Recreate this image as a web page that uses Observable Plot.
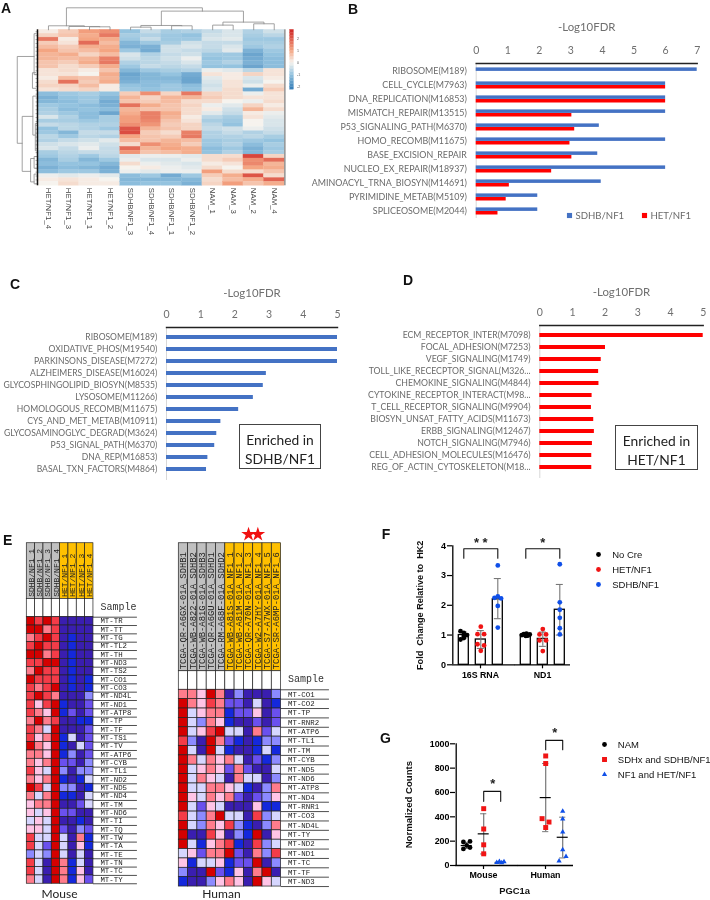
<!DOCTYPE html>
<html><head><meta charset="utf-8">
<script src="https://cdn.jsdelivr.net/npm/d3@7"></script>
<script src="https://cdn.jsdelivr.net/npm/@observablehq/plot@0.6"></script>
<style>
html,body{margin:0;padding:0;background:#fff}
#root{position:relative;width:710px;height:900px;overflow:hidden;background:#fff;filter:blur(.35px)}
#root>svg{position:absolute;background:transparent}
.t{position:absolute;white-space:nowrap;line-height:1}
.let{font:700 14px "Liberation Sans",Arial,sans-serif;color:#111}
.box{position:absolute;box-sizing:border-box;border:1px solid #444;background:#fff;color:#222;font:13.8px/18.6px Lato,sans-serif;text-align:center;padding-top:6px}
</style></head><body><div id="root"></div>
<script>
// ---------- Panel A ----------
const heatColumns = ["HET/NF1_4","HET/NF1_3","HET/NF1_1","HET/NF1_2","SDHB/NF1_3","SDHB/NF1_4","SDHB/NF1_1","SDHB/NF1_2","NAM_1","NAM_3","NAM_2","NAM_4"];
const heatValues = [
[.1,.5,1.1,1.3,-1,-.5,-.8,-.7,-.5,-.3,-.7,-.4],
[.4,.6,.9,1.6,-.8,-.7,-.9,-1,-.4,-.3,-.8,-.6],
[1.6,.1,1,.9,-.9,-.5,-.9,-.9,-.3,-.2,-.9,-.9],
[.5,.2,1.8,.7,-1.2,-.9,-.8,-.4,-.5,-.5,-.8,-.8],
[.7,.5,.9,.9,-1.3,-1.3,-.4,-.3,-.5,-.3,-.9,-.7],
[1,.6,.7,1,-.9,-1.4,-.4,-.5,-.6,-.2,-1.3,-.9],
[.8,.9,.4,.7,-.3,-.7,-.5,-.4,-.9,-.9,-1.5,-1],
[.8,.7,.8,1.5,-.4,-.6,-.4,-.1,-1,-.9,-1.4,-1.1],
[.6,.5,.9,1.6,-.7,-.6,-.5,-.3,-.9,-.7,-1.3,-1.1],
[.6,.3,.5,.9,-.9,-.5,-.6,-.5,-1,-1,-1.5,-1.1],
[.2,.3,.1,.6,-1.2,-.9,-.8,-.7,-.1,-.2,-.6,.2],
[.2,.2,0,.9,-1.5,-1.2,-1,-1.4,.2,.1,.4,.2],
[.1,.7,.6,.8,-1.4,-1.2,-1.2,-1.5,-.2,.1,-.3,.1],
[.3,1.7,.5,.9,-1.3,-1.1,-1.1,-1.5,-.3,.2,-.4,0],
[.4,.4,.7,.1,-1,-1.1,-.9,-1.1,-.4,.2,-.1,.3],
[.2,.3,.4,.1,-.9,-1,-.9,-1,-.3,.3,-1.4,.5],
[-1.1,-.9,-.8,-1,.5,1.3,.4,1.6,.4,.3,-.1,.2],
[-1.3,-1,-.9,-1.2,.8,.4,.8,.8,.5,.3,.2,.2],
[-1.2,-1.1,-.9,-1.4,.6,.5,.7,.3,.3,0,-.1,.3],
[-.9,-1,-1.1,-1.3,1.7,.9,.6,.4,-.1,-.2,.4,.1],
[-.8,-1.1,-1,-1.1,.8,.6,.6,.3,.1,-.4,.8,.3],
[-.7,-.9,-1.1,-1.5,.9,1.5,.9,.3,-.2,-.5,.1,-.1],
[-.3,-.7,-1.1,-.8,1.1,1.5,.8,.1,-.6,-.8,.2,-.2],
[-.8,-.8,-.9,-.8,1.1,1.4,.6,.2,-.8,-.9,0,-.3],
[-.5,-.6,-.7,-.7,1.3,1.2,.5,.4,-.6,-1,0,-.3],
[-1,-.6,-.7,-.9,2.1,.8,.6,.4,-.5,-.4,-.1,-.4],
[-.9,-1.2,-.5,-.5,2.2,.5,.3,1.5,-.7,-.5,-.7,-.5],
[-.6,-.9,-.6,-.7,1,.6,.5,1.6,-.7,-.7,-.6,-.8],
[-.7,-.5,-.4,-.2,.7,.6,.8,.7,-.9,-.8,-.9,-1],
[-.4,-.3,-.2,-.4,.3,1.3,.9,.5,-.9,-.7,-1.1,-.8],
[-.3,-.5,-.1,-.5,1.8,.8,1,.9,-1.1,-.9,-1.3,-.9],
[-.8,-.6,-.5,-.5,1.2,.6,.7,.9,-1,-.7,-1.2,-.8],
[-.9,-.7,-.9,-.6,-.2,-.1,-.1,-.2,.3,.3,2.3,.4],
[-1.2,-.8,-1.2,-.9,-.1,-.3,-.3,-.1,.3,.5,1.3,1.8],
[-1.1,-1,-1,-1.2,.3,-.1,-.2,-.3,.1,.2,1.4,.8],
[-1.3,-1.1,-1.2,-1.4,0,.1,-.1,-.2,.3,0,1,.9],
[-1.1,-.9,-.9,-1.3,-.1,-.2,-.1,-.1,1.1,.3,.3,.6],
[-.1,-.2,-.1,-.2,-1.1,-.9,-1.4,-.9,.5,.9,2.1,.3],
[.1,.2,.1,0,-1.2,-1.2,-1.2,-1.2,.3,.7,.9,1.9],
[0,.3,.1,.1,-1.1,-1,-1,-1.3,.4,1.1,.6,.9]];
const colorBarTicks = [2,1,0,-1,-2];
const colorBarLevels = [-2.25,-2,-1.75,-1.5,-1.25,-1,-.75,-.5,-.25,0,.25,.5,.75,1,1.25,1.5,1.75,2,2.25,2.5];
// dendrogram merges: children a,b, merge height h, child heights ha,hb
const topMerges = [
{a:2.5,b:3.5,h:.77,ha:0,hb:0},{a:1.5,b:3,h:.85,ha:0,hb:.77},{a:.5,b:2.25,h:1.03,ha:0,hb:.85},
{a:4.5,b:5.5,h:.68,ha:0,hb:0},{a:6.5,b:7.5,h:1.03,ha:0,hb:0},{a:5,b:7,h:1.11,ha:.68,hb:1.03},
{a:8.5,b:9.5,h:1.2,ha:0,hb:0},{a:10.5,b:11.5,h:1.54,ha:0,hb:0},{a:9,b:11,h:1.97,ha:1.2,hb:1.54},
{a:6,b:10,h:4.79,ha:1.11,hb:1.97},{a:1.375,b:8,h:5.64,ha:1.03,hb:4.79}];
const leftMerges = [
{a:6.84,b:29.1,h:1.02,ha:.2,hb:.78},{a:22.2,b:36.3,h:.78,ha:.26,hb:.37},
{a:1,b:11.5,h:.2,ha:.1,hb:.12},{a:11,b:15,h:.28,ha:.12,hb:.12},{a:17,b:27,h:.26,ha:.1,hb:.14},
{a:24,b:31,h:.14,ha:.08,hb:.1},{a:33,b:39,h:.37,ha:.2,hb:.2},{a:32.5,b:35.5,h:.2,ha:.1,hb:.1},{a:37,b:39.5,h:.2,ha:.1,hb:.1}];

// ---------- Panels B, C, D ----------
const pathwaysB = ["RIBOSOME(M189)","CELL_CYCLE(M7963)","DNA_REPLICATION(M16853)","MISMATCH_REPAIR(M13515)","P53_SIGNALING_PATH(M6370)","HOMO_RECOMB(M11675)","BASE_EXCISION_REPAIR","NUCLEO_EX_REPAIR(M18937)","AMINOACYL_TRNA_BIOSYN(M14691)","PYRIMIDINE_METAB(M5109)","SPLICEOSOME(M2044)"];
const sdhbB = [7,6,6,6,3.9,6,3.85,6,3.96,1.95,1.95];
const hetB = [0,6,6,3.03,3.12,2.97,3.03,2.39,1.05,.95,.69];
const pathwaysC = ["RIBOSOME(M189)","OXIDATIVE_PHOS(M19540)","PARKINSONS_DISEASE(M7272)","ALZHEIMERS_DISEASE(M16024)","GLYCOSPHINGOLIPID_BIOSYN(M8535)","LYSOSOME(M11266)","HOMOLOGOUS_RECOMB(M11675)","CYS_AND_MET_METAB(M10911)","GLYCOSAMINOGLYC_DEGRAD(M3624)","P53_SIGNAL_PATH(M6370)","DNA_REP(M16853)","BASAL_TXN_FACTORS(M4864)"];
const valuesC = [5,5,5,2.92,2.83,2.54,2.11,1.59,1.47,1.41,1.21,1.17];
const pathwaysD = ["ECM_RECEPTOR_INTER(M7098)","FOCAL_ADHESION(M7253)","VEGF_SIGNALING(M1749)","TOLL_LIKE_RECECPTOR_SIGNAL(M326...","CHEMOKINE_SIGNALING(M4844)","CYTOKINE_RECEPTOR_INTERACT(M98...","T_CELL_RECEPTOR_SIGNALING(M9904)","BIOSYN_UNSAT_FATTY_ACIDS(M11673)","ERBB_SIGNALING(M12467)","NOTCH_SIGNALING(M7946)","CELL_ADHESION_MOLECULES(M16476)","REG_OF_ACTIN_CYTOSKELETON(M18..."];
const valuesD = [5,2.01,1.88,1.8,1.81,1.6,1.58,1.65,1.67,1.61,1.59,1.59];

// ---------- Panel E ----------
const mouseSamples = ["SDHB/NF1_1","SDHB/NF1_2","SDHB/NF1_3","SDHB/NF1_4","HET/NF1_1","HET/NF1_2","HET/NF1_3","HET/NF1_4"];
const mouseGenes = ["MT-TR","MT-TT","MT-TG","MT-TL2","MT-TH","MT-ND3","MT-TS2","MT-CO1","MT-CO3","MT-ND4L","MT-ND1","MT-ATP8","MT-TP","MT-TF","MT-TS1","MT-TV","MT-ATP6","MT-CYB","MT-TL1","MT-ND2","MT-ND5","MT-ND4","MT-TM","MT-ND6","MT-TI","MT-TQ","MT-TW","MT-TA","MT-TE","MT-TN","MT-TC","MT-TY"];
const mouseLevels = [
[4,3,4,3,-5,-5,-5,-5],[4,4,2,3,-5,-5,-5,-5],[2,3,4,3,-5,-4,-5,-5],[3,4,3,3,-5,-4,-5,-5],
[4,4,2,3,-5,-4,-5,-5],[3,3,4,4,-5,-4,-5,-5],[2,4,3,3,-5,-4,-5,-5],[4,3,3,3,-5,-4,-5,-4],
[3,2,3,4,-5,-4,-5,-4],[3,4,3,2,-5,-5,-5,-2],[3,1,3,4,-4,-5,-5,-3],[3,2,1,4,-4,-3,-5,-3],
[2,4,2,3,-5,-5,-4,-4],[3,2,-1,4,-5,-5,-5,-3],[3,1,2,4,-4,-1,-5,-3],[4,2,1,4,-4,-5,-1,-3],
[2,2,1,4,-4,-2,-5,-3],[2,1,2,4,-3,-3,-5,-2],[3,1,-1,4,-2,-5,-2,-2],[2,1,2,4,-4,-5,-4,-1],
[4,3,-1,4,-2,-2,-5,-4],[2,-1,2,4,-4,-4,-5,-1],[1,2,2,4,-5,-5,-3,-1],[1,-1,1,4,-3,-3,-5,-5],
[-1,1,-1,4,-5,-5,-4,-5],[1,1,-1,4,-3,-5,-2,-3],[3,-1,-1,4,-1,-5,2,-4],[3,-1,-3,4,-1,-5,1,-4],
[-2,-1,-2,4,-1,-5,-1,-5],[3,-1,-5,4,2,-4,-1,-5],[3,-1,-5,4,2,-4,1,-5],[2,-1,-5,4,2,-4,1,-3]];
const humanSamples = ["TCGA-QR-A6GX-01A_SDHB1","TCGA-WB-A822-01A_SDHB2","TCGA-WB-A81G-01A_SDHB3","TCGA-QR-A6GU-01A_SDHD1","TCGA-RM-A68F-01A_SDHD2","TCGA-WB-A81S-01A_NF1_1","TCGA-WB-A81M-01A_NF1_2","TCGA-QR-A70N-01A_NF1_3","TCGA-W2-A7HY-01A_NF1_4","TCGA-S7-A7WX-01A_NF1_5","TCGA-SR-A6MP-01A_NF1_6"];
const humanGenes = ["MT-CO1","MT-CO2","MT-TP","MT-RNR2","MT-ATP6","MT-TL1","MT-TM","MT-CYB","MT-ND5","MT-ND6","MT-ATP8","MT-ND4","MT-RNR1","MT-CO3","MT-ND4L","MT-TY","MT-ND2","MT-ND1","MT-TC","MT-TF","MT-ND3"];
const humanLevels = [
[2,2,1,4,2,-5,-2,-5,-5,-5,-2],[4,2,1,3,2,-3,-3,-5,-1,-5,-4],[4,-1,1,2,2,-4,-3,-3,1,-5,-3],
[4,-1,-2,2,1,-4,-5,-5,-3,-5,-3],[4,-1,1,3,4,-1,-1,-5,2,-3,-1],[3,-2,-5,4,2,-3,-4,-5,-4,-2,-2],
[4,-1,-5,4,-1,-4,-5,-5,-4,-1,-4],[4,2,-1,2,1,2,-1,-5,-3,-4,-2],[4,-1,1,2,1,-3,2,-3,-5,-5,-1],
[4,-1,2,1,-1,-5,2,-1,-1,-5,-2],[4,-1,-1,2,2,1,-1,-4,-5,-2,2],[4,1,-1,2,1,2,-3,-5,-3,-2,1],
[4,-1,-3,1,-1,-5,-5,-5,1,-4,-4],[3,-1,-2,2,4,-1,-1,-5,3,-2,-1],[4,-1,-2,2,1,3,-2,-4,-5,-2,2],
[4,-5,-5,3,1,-5,-2,-4,4,-5,1],[4,-1,-4,1,2,3,-4,-5,3,-2,-1],[-1,1,-3,2,2,4,-3,-5,2,-2,3],
[1,-4,-1,-1,1,-4,-3,-3,4,-5,-2],[-2,-5,-5,4,-3,-4,1,-5,2,4,-5],[-4,-5,-5,-2,1,2,1,-5,4,1,-1]];
const levelDomain = [4,3,2,1,-1,-2,-3,-4,-5];
const levelColors = ["#d40000","#f43c48","#ff7c8c","#ffc4e6","#d6d6ff","#8c8aff","#6a50ee","#1428dc","#3a1eb0"];
const starredSamples = [7,8];

// ---------- Panel F ----------
const fGroups = ["16S RNA","ND1"];
const fSeries = ["No Cre","HET/NF1","SDHB/NF1"];
const fBars16S = [1,.85,2.2];
const fBarsND1 = [1,.87,1.85];
const fErrLow16S = [.9,.55,1.55], fErrHigh16S = [1.1,1.15,2.9];
const fErrLowND1 = [.95,.62,1], fErrHighND1 = [1.05,1.1,2.7];
const f16SNoCre = [1.13,1.07,1,.97,.9,.85], f16SNoCreSlot = [-1,0,1,0,0,-1];
const f16SHet = [1.28,1.03,1.03,.69,.65,.47], f16SHetSlot = [0,-1,1,-1,1,0];
const f16SSdhb = [3.34,2.25,2.3,2.23,1.98,1.25], f16SSdhbSlot = [0,-1,0,1,0,0];
const fND1NoCre = [1,1.03,.97,1.05,.98,1.02], fND1NoCreSlot = [-1.2,-.6,0,.2,.6,1.2];
const fND1Het = [1.2,1.02,1.02,.82,.82,.46], fND1HetSlot = [0,-1,1,-1,1,0];
const fND1Sdhb = [3.38,2.1,1.85,1.58,1.23,1.02], fND1SdhbSlot = [0,0,0,0,0,0];
const fColors = ["#000000","#f01414","#0f4fe8"];

// ---------- Panel G ----------
const gGroups = ["Mouse","Human"];
const gSeries = ["NAM","SDHx and SDHB/NF1","NF1 and HET/NF1"];
const gMouseNam = [193,198,136,147,165], gMouseNamSlot = [-1,1,-1,1,0];
const gMouseSdhx = [467,300,170,96], gMouseSdhxSlot = [0,0,0,0];
const gMouseNf1 = [25,32,22,30], gMouseNf1Slot = [-1.2,-.4,.3,1];
const gHumanSdhx = [900,838,385,357,312], gHumanSdhxSlot = [0,0,-1.1,1,0];
const gHumanNf1 = [445,382,275,130,37,74], gHumanNf1Slot = [0,0,0,0,-1.1,1];
const gSummary = [ // group, series, mean, low, high
["Mouse","NAM",164,140,190],["Mouse","SDHx and SDHB/NF1",260,95,425],["Mouse","NF1 and HET/NF1",25,18,32],
["Human","SDHx and SDHB/NF1",558,278,838],["Human","NF1 and HET/NF1",232,62,397]];
const gColors = ["#000000","#f01414","#0f4fe8"];
const gSymbols = ["circle","square","triangle"];

// ---------- helpers ----------
const root = document.getElementById("root");
function place(svg,left,top){svg.style.left=left+"px";svg.style.top=top+"px";svg.style.background="transparent";root.appendChild(svg);return svg;}
function label(text,left,top,css){const d=document.createElement("div");d.className="t";d.textContent=text;d.style.left=left+"px";d.style.top=top+"px";d.style.cssText+=";"+(css||"");root.appendChild(d);return d;}
function box(lines,left,top,w,h){const d=document.createElement("div");d.className="box";d.innerHTML=lines.join("<br>");d.style.left=left+"px";d.style.top=top+"px";d.style.width=w+"px";d.style.height=h+"px";root.appendChild(d);}
const sans='"Liberation Sans",Arial,sans-serif', excel='Lato,"Noto Sans",sans-serif', mono='"Liberation Mono",monospace';

function legend(series,colors,symbols,x,y,step,textDx,fontSize,radii){
 const pad=8;
 place(Plot.plot({width:710-(x-6),height:step*(series.length-1)+2*pad,marginLeft:6,marginRight:0,marginTop:pad,marginBottom:pad,
  style:{background:"transparent",fontFamily:sans},
  x:{domain:[0,1],axis:null},y:{type:"point",domain:series,padding:0,axis:null},
  color:{domain:series,range:colors},symbol:{domain:series,range:symbols},
  marks:[
   ...series.map((s,i)=>Plot.dot([s],{x:0,y:d=>d,fill:d=>d,symbol:d=>d,r:radii[i]})),
   Plot.text(series,{x:0,y:d=>d,dx:textDx,text:d=>d,textAnchor:"start",fontSize,fill:"#111"})
  ]}),x-6,y-pad);
}

// ---------- A ----------
(function(){
 const rows=heatValues.length, cols=heatColumns.length;
 const cells=heatValues.flatMap((r,i)=>r.map((v,j)=>({i,j,v})));
 const colorOpt={type:"linear",domain:[-2.25,-1,0,1,2.6],range:["#2f79b5","#94c3df","#f6f3ee","#f4a582","#d2302c"]};
 const topPath=topMerges.flatMap((m,k)=>[{k,x:m.a,y:-m.ha},{k,x:m.a,y:-m.h*1},{k,x:m.b,y:-m.h},{k,x:m.b,y:-m.hb}]);
 const leftPath=leftMerges.flatMap((m,k)=>[{k,x:-m.ha,y:m.a},{k,x:-m.h,y:m.a},{k,x:-m.h,y:m.b},{k,x:-m.hb,y:m.b}]);
 place(Plot.plot({width:288,height:240,marginLeft:37.7,marginRight:4,marginTop:29.3,marginBottom:54.7,
  style:{background:"transparent",fontFamily:sans},
  x:{domain:[0,cols],axis:null},y:{domain:[rows,0],axis:null},color:colorOpt,
  marks:[
   Plot.rect(cells,{x1:d=>d.j,x2:d=>d.j+1,y1:d=>d.i,y2:d=>d.i+1,fill:"v",stroke:"v",strokeWidth:.3}),
   Plot.line(topPath,{x:"x",y:"y",z:"k",stroke:"#8a8a8a",strokeWidth:.8,curve:"linear"}),
   Plot.line(leftPath,{x:"x",y:"y",z:"k",stroke:"#8a8a8a",strokeWidth:.8,curve:"linear"}),
   Plot.link(d3.range(rows),{x1:-.13,x2:0,y1:d=>d+.5,y2:d=>d+.5,stroke:"#777",strokeWidth:.6}),
   Plot.ruleX([-.035],{y1:0,y2:rows,stroke:"#111",strokeWidth:1.5}),
   Plot.ruleX([cols+.02],{y1:0,y2:rows,stroke:"#333",strokeWidth:.8}),
   Plot.text(heatColumns,{x:(d,j)=>j+.5,y:rows,dy:2,text:d=>d,rotate:90,textAnchor:"start",fontSize:7.8,fill:"#444"})
  ]}),0,0);
 place(Plot.plot({width:24,height:70,marginLeft:3.5,marginRight:16.5,marginTop:4.3,marginBottom:5.7,
  style:{background:"transparent",fontFamily:sans},
  x:{domain:[0,1],axis:null},y:{domain:[-2.25,2.75],axis:null},color:colorOpt,
  marks:[
   Plot.rect(colorBarLevels,{x1:0,x2:1,y1:d=>d,y2:d=>d+.25,fill:d=>d+.125,stroke:d=>d+.125,strokeWidth:.2}),
   Plot.text(colorBarTicks,{x:1,y:d=>d,dx:3,text:d=>String(d),textAnchor:"start",fontSize:3.6,fill:"#555"})
  ]}),286,25);
})();

// ---------- B, C, D ----------
function barPanel({left,top,width,height,x0,x1,lineY,bottomY,domain,cats,series,titleDy,catFont}){
 return place(Plot.plot({width,height,marginLeft:x0-left,marginRight:left+width-x1,marginTop:lineY-top,marginBottom:top+height-bottomY,
  style:{background:"transparent",fontFamily:excel},
  x:{domain:[0,domain],axis:null},y:{domain:cats,padding:0,axis:null},
  marks:[
   Plot.frame({anchor:"left",stroke:"#d8d8d8",strokeWidth:1}),
   ...series.map(s=>Plot.barX(s.rows,{x:"v",y:"c",fill:s.fill,insetTop:s.it,insetBottom:s.ib})),
   Plot.frame({anchor:"top",stroke:"#222",strokeWidth:1.4}),
   Plot.axisX({anchor:"top",tickSize:0,tickPadding:9.5,ticks:d3.range(0,domain+1),tickFormat:"d",label:null,color:"#6f6f6f",fontSize:10.5}),
   Plot.axisY({anchor:"left",tickSize:0,tickPadding:9.3,label:null,color:"#6a6a6a",fontSize:catFont}),
   Plot.text(["-Log10FDR"],{frameAnchor:"top",lineAnchor:"middle",dy:titleDy,text:d=>d,fontSize:11.4,fill:"#6f6f6f"})
  ]}),left,top);
}
const rowsOf=(cats,vals)=>cats.map((c,i)=>({c,v:vals[i]})).filter(d=>d.v>0);
barPanel({left:300,top:15,width:410,height:203,x0:475.7,x1:696.7,lineY:63,bottomY:218,domain:7,cats:pathwaysB,titleDy:-36.3,catFont:8.9,
 series:[{rows:rowsOf(pathwaysB,sdhbB),fill:"#4472c4",it:3.4,ib:7.1},{rows:rowsOf(pathwaysB,hetB),fill:"#ff0000",it:7,ib:3.5}]});
barPanel({left:0,top:280,width:345,height:200,x0:166,x1:337,lineY:327,bottomY:479.8,domain:5,cats:pathwaysC,titleDy:-33.7,catFont:8.55,
 series:[{rows:rowsOf(pathwaysC,valuesC),fill:"#4472c4",it:4,ib:4}]});
barPanel({left:350,top:280,width:358,height:198,x0:539.3,x1:702.7,lineY:325,bottomY:477.8,domain:5,cats:pathwaysD,titleDy:-33.3,catFont:8.7,
 series:[{rows:rowsOf(pathwaysD,valuesD),fill:"#ff0000",it:4,ib:4}]});
box(["Enriched in","SDHB/NF1"],238.7,424.3,82.6,45);
box(["Enriched in","HET/NF1"],615.3,425.3,82.4,45);
// B legend
place(Plot.plot({width:150,height:16,marginLeft:9,marginRight:66,marginTop:8,marginBottom:8,
 style:{background:"transparent",fontFamily:excel},
 x:{type:"point",domain:["SDHB/NF1","HET/NF1"],padding:0,axis:null},y:{axis:null},
 marks:[
  Plot.dot(["SDHB/NF1"],{x:d=>d,symbol:"square",r:2.9,fill:"#4472c4",frameAnchor:"middle"}),
  Plot.dot(["HET/NF1"],{x:d=>d,symbol:"square",r:2.9,fill:"#ff0000",frameAnchor:"middle"}),
  Plot.text(["SDHB/NF1","HET/NF1"],{x:d=>d,text:d=>d,dx:6,textAnchor:"start",fontSize:9.6,fill:"#6a6a6a",frameAnchor:"middle"})
 ]}),560,206.5);

// ---------- E ----------
function mtPanel({left,top,samples,genes,levels,groupSplit,colW,rowH,headerRows,gapRows,firstX,firstY,labelDx,sampleY,ruleCols,stars}){
 const n=samples.length,m=genes.length;
 const width=colW*n+ruleCols*colW+firstX-left+2, height=firstY-top+rowH*m+2;
 const cells=levels.flatMap((r,i)=>r.map((v,j)=>({i,j,v})));
 const head=samples.map((s,j)=>({s,j}));
 const common={x1:d=>d.j,x2:d=>d.j+1,stroke:"#222",strokeWidth:.7};
 const marks=[
  Plot.rect(head.filter(d=>d.j<groupSplit),{...common,y1:-headerRows-gapRows,y2:-gapRows,fill:"#c0c0c0"}),
  Plot.rect(head.filter(d=>d.j>=groupSplit),{...common,y1:-headerRows-gapRows,y2:-gapRows,fill:"#ffc000"}),
  Plot.rect(head,{...common,y1:-gapRows,y2:0,fill:"#fff"}),
  Plot.rect(cells,{...common,y1:d=>d.i,y2:d=>d.i+1,fill:"v"}),
  Plot.ruleY(d3.range(m+1),{x1:n,x2:n+ruleCols,stroke:"#222",strokeWidth:.8}),
  Plot.text(head,{x:d=>d.j+.5,y:-gapRows,dy:-2,rotate:-90,textAnchor:"start",text:"s",fontFamily:mono,fontSize:n>8?8.9:8,fill:"#222"}),
  Plot.text(genes,{x:n,y:(d,i)=>i+.5,dx:labelDx,dy:-.3,text:d=>d,textAnchor:"start",fontFamily:mono,fontSize:7.4,fill:"#222"}),
  Plot.text(["Sample"],{x:n,y:-gapRows*sampleY,dx:labelDx,text:d=>d,textAnchor:"start",fontFamily:mono,fontSize:10,fill:"#333"})
 ];
 if(stars) marks.push(Plot.dot(stars,{x:d=>d+.5,y:-headerRows-gapRows-.95,symbol:"star",r:4.6,fill:"#f01010"}));
 place(Plot.plot({width,height,marginLeft:firstX-left,marginRight:width-(firstX-left)-colW*n,marginTop:firstY-top,marginBottom:2,
  style:{background:"transparent"},
  x:{domain:[0,n],axis:null},y:{domain:[m,0],axis:null},
  color:{type:"ordinal",domain:levelDomain,range:levelColors},marks}),left,top);
}
mtPanel({left:20,top:535,samples:mouseSamples,genes:mouseGenes,levels:mouseLevels,groupSplit:4,colW:8.33,rowH:8.33,headerRows:6.68,gapRows:2.2,firstX:26.3,firstY:616.7,labelDx:7,sampleY:.55,ruleCols:5.28});
mtPanel({left:172,top:525,samples:humanSamples,genes:humanGenes,levels:humanLevels,groupSplit:5,colW:9.3,rowH:9.37,headerRows:13.66,gapRows:1.98,firstX:178.3,firstY:689.3,labelDx:7,sampleY:.6,ruleCols:5.2,stars:starredSamples});

// shared axis lines of a two-facet chart: baseline over both facets and a y-axis line
function facetAxisLines(groups,series,yTop,facetGap,centerOffset){
 return [
  Plot.ruleY([0],{fx:()=>groups[0],insetRight:-facetGap,stroke:"#000",strokeWidth:1.3}),
  Plot.ruleY([0],{fx:()=>groups[1],stroke:"#000",strokeWidth:1.3}),
  Plot.ruleX([series[0]],{fx:()=>groups[0],y1:0,y2:yTop,dx:-centerOffset,stroke:"#000",strokeWidth:1.3})
 ];
}

// ---------- F ----------
(function(){
 const summary=[...fSeries.map((s,i)=>({g:fGroups[0],s,v:fBars16S[i],lo:fErrLow16S[i],hi:fErrHigh16S[i]})),...fSeries.map((s,i)=>({g:fGroups[1],s,v:fBarsND1[i],lo:fErrLowND1[i],hi:fErrHighND1[i]}))];
 const sets=[[fGroups[0],fSeries[0],f16SNoCre,f16SNoCreSlot],[fGroups[0],fSeries[1],f16SHet,f16SHetSlot],[fGroups[0],fSeries[2],f16SSdhb,f16SSdhbSlot],
  [fGroups[1],fSeries[0],fND1NoCre,fND1NoCreSlot],[fGroups[1],fSeries[1],fND1Het,fND1HetSlot],[fGroups[1],fSeries[2],fND1Sdhb,fND1SdhbSlot]];
 const pts=sets.flatMap(([g,s,v,sl])=>v.map((y,i)=>({g,s,y,slot:sl[i]})));
 const slotMarks=d3.groups(pts,d=>d.slot).map(([slot,rows])=>Plot.dot(rows,{fx:"g",x:"s",y:"y",fill:"s",r:2.4,dx:slot*3.3}));
 const bracket=fGroups.flatMap(g=>[{g,s:fSeries[0],y:3.58},{g,s:fSeries[0],y:3.9},{g,s:fSeries[2],y:3.9},{g,s:fSeries[2],y:3.58}]);
 const stars=[{g:fGroups[0],s:fSeries[1],t:"* *"},{g:fGroups[1],s:fSeries[1],t:"*"}];
 place(Plot.plot({width:190,height:155,marginLeft:51.7,marginRight:19.3,marginTop:15.3,marginBottom:20.7,
  style:{background:"transparent",fontFamily:sans,overflow:"visible"},
  fx:{domain:fGroups,padding:.1,axis:null},x:{domain:fSeries,paddingInner:.42,paddingOuter:.35,axis:null},
  y:{domain:[0,4],axis:null},color:{domain:fSeries,range:fColors},
  marks:[
   Plot.barY(summary,{fx:"g",x:"s",y:"v",fill:"#fff",stroke:"#000",strokeWidth:1.3}),
   Plot.ruleX(summary,{fx:"g",x:"s",y1:"lo",y2:"hi",stroke:"#777",strokeWidth:1.1}),
   Plot.tickY(summary,{fx:"g",x:"s",y:"hi",stroke:"#777",strokeWidth:1.1,insetLeft:1.5,insetRight:1.5}),
   Plot.tickY(summary,{fx:"g",x:"s",y:"lo",stroke:"#777",strokeWidth:1.1,insetLeft:1.5,insetRight:1.5}),
   ...slotMarks,
   Plot.line(bracket,{fx:"g",x:"s",y:"y",z:"g",stroke:"#111",strokeWidth:1.1}),
   Plot.text(stars,{fx:"g",x:"s",y:4,dy:-2.5,text:"t",fontSize:13,fontWeight:700,fill:"#222"}),
   ...facetAxisLines(fGroups,fSeries,4,6.3,11),
   Plot.axisY({anchor:"left",ticks:[0,1,2,3,4],tickFormat:"d",tickSize:5,tickPadding:1.5,label:null,fontWeight:700,fontSize:9,strokeWidth:1.2}),
   Plot.text(["Fold  Change Relative to  HK2"],{fx:()=>fGroups[0],frameAnchor:"left",textAnchor:"middle",rotate:-90,dx:-32.4,text:d=>d,fontSize:9.1,fontWeight:700,fill:"#111"}),
   Plot.axisFx({anchor:"bottom",tickSize:4,tickPadding:3,label:null,fontWeight:700,fontSize:8.8,strokeWidth:1.2})
  ]}),400,530);
 legend(fSeries,fColors,["circle","circle","circle"],598,553.3,15.7,13.7,9.5,[2.4,2.4,2.4]);
})();

// ---------- G ----------
(function(){
 const sets=[[gGroups[0],gSeries[0],gMouseNam,gMouseNamSlot],[gGroups[0],gSeries[1],gMouseSdhx,gMouseSdhxSlot],[gGroups[0],gSeries[2],gMouseNf1,gMouseNf1Slot],
  [gGroups[1],gSeries[1],gHumanSdhx,gHumanSdhxSlot],[gGroups[1],gSeries[2],gHumanNf1,gHumanNf1Slot]];
 const radii=[2.4,2.8,1.95];
 const pts=sets.flatMap(([g,s,v,sl])=>v.map((y,i)=>({g,s,y,slot:sl[i]})));
 const slotMarks=d3.groups(pts,d=>d.slot+"|"+d.s).map(([key,rows])=>Plot.dot(rows,{fx:"g",x:"s",y:"y",fill:"s",symbol:"s",r:radii[gSeries.indexOf(rows[0].s)],dx:rows[0].slot*3.3}));
 const sum=gSummary.map(([g,s,m,lo,hi])=>({g,s,m,lo,hi}));
 const bracket=[[gGroups[0],527,609],[gGroups[1],952,1028]].flatMap(([g,a,b])=>[{g,s:gSeries[1],y:a},{g,s:gSeries[1],y:b},{g,s:gSeries[2],y:b},{g,s:gSeries[2],y:a}]);
 const stars=[{g:gGroups[0],y:609},{g:gGroups[1],y:1028}];
 place(Plot.plot({width:190,height:175,marginLeft:55.3,marginRight:16.7,marginTop:33.3,marginBottom:20,
  style:{background:"transparent",fontFamily:sans,overflow:"visible"},
  fx:{domain:gGroups,padding:.1,axis:null},x:{domain:gSeries,paddingInner:0,paddingOuter:.1,axis:null},
  y:{domain:[0,1000],axis:null},color:{domain:gSeries,range:gColors},symbol:{domain:gSeries,range:gSymbols},
  marks:[
   Plot.ruleX(sum,{fx:"g",x:"s",y1:"lo",y2:"hi",stroke:"#777",strokeWidth:1.2}),
   Plot.tickY(sum,{fx:"g",x:"s",y:"hi",stroke:"#777",strokeWidth:1,insetLeft:5.4,insetRight:5.4}),
   Plot.tickY(sum,{fx:"g",x:"s",y:"lo",stroke:"#777",strokeWidth:1,insetLeft:5.4,insetRight:5.4}),
   Plot.tickY(sum,{fx:"g",x:"s",y:"m",stroke:"#000",strokeWidth:1.2,insetLeft:3,insetRight:3}),
   ...slotMarks,
   Plot.line(bracket,{fx:"g",x:"s",y:"y",z:"g",stroke:"#111",strokeWidth:1.1}),
   Plot.text(stars,{fx:"g",x:()=>gSeries[1],y:"y",dx:9,dy:-7.5,text:()=>"*",fontSize:13,fontWeight:700,fill:"#222"}),
   ...facetAxisLines(gGroups,gSeries,1000,6.2,10.5),
   Plot.axisY({anchor:"left",ticks:[0,200,400,600,800,1000],tickFormat:"d",tickSize:5,tickPadding:1,label:null,fontWeight:700,fontSize:8.9,strokeWidth:1.2}),
   Plot.text(["Normalized Counts"],{fx:()=>gGroups[0],frameAnchor:"left",textAnchor:"middle",rotate:-90,dx:-47,text:d=>d,fontSize:9.6,fontWeight:700,fill:"#111"}),
   Plot.axisFx({anchor:"bottom",tickSize:4,tickPadding:2,label:null,fontWeight:700,fontSize:8.9,strokeWidth:1.2}),
   Plot.text(["PGC1a"],{fx:()=>gGroups[0],frameAnchor:"bottom",lineAnchor:"middle",dx:31,dy:25.5,text:d=>d,fontSize:9.4,fontWeight:700,fill:"#111"})
  ]}),400,710);
 legend(gSeries,gColors,gSymbols,604,743.3,15.85,13.3,9.5,radii);
})();

// ---------- panel letters & captions ----------
[["A",1,0],["B",348,1],["C",10,276],["D",403,272],["E",3,532],["F",381.7,526],["G",380,730]].forEach(([t,x,y])=>{const d=label(t,x,y);d.classList.add("let");});
label("Mouse",41.5,886,"font:12px Lato,sans-serif;color:#222");
label("Human",202.3,885.5,"font:12px Lato,sans-serif;color:#222");
</script></body></html>
